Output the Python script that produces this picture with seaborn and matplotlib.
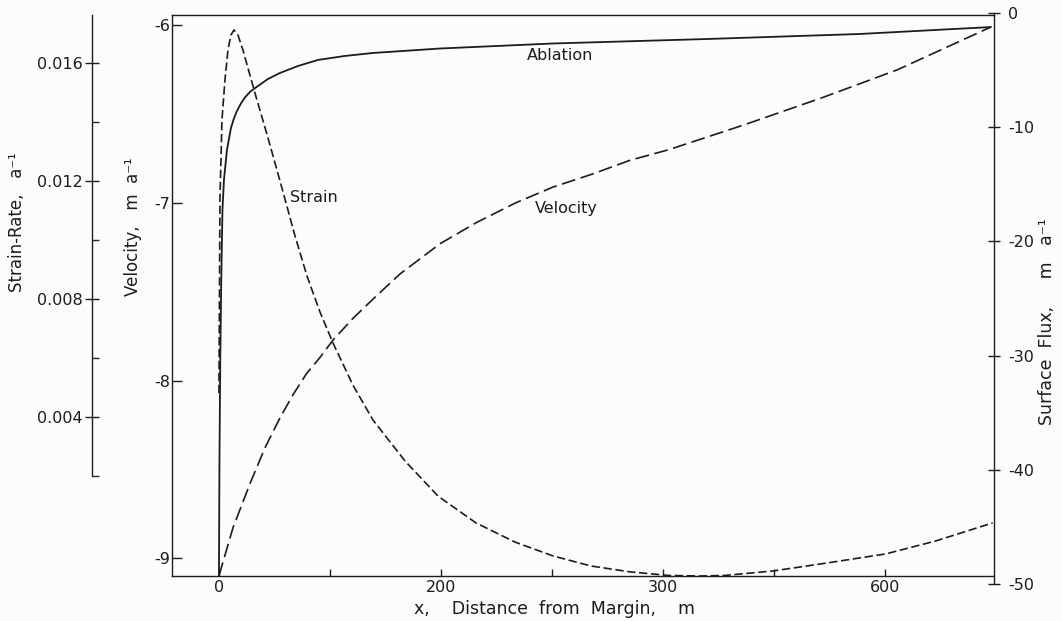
import seaborn as sns
import matplotlib.pyplot as plt

# distance from margin (m) and curve values
vel_x = [0, 12.6, 28, 41.4, 55, 66.7, 79, 91, 103, 120.7, 139, 163, 199, 232, 267, 301,
         335, 370, 405, 473, 542, 611, 695]
vel_y = [-9.10, -8.83, -8.58, -8.38, -8.21, -8.08, -7.96, -7.87, -7.77, -7.65, -7.54,
         -7.40, -7.23, -7.11, -7.00, -6.91, -6.84, -6.76, -6.70, -6.56, -6.41, -6.25, -6.01]

strain_x = [0, 0.9, 2.7, 5.4, 8.1, 10.8, 13.5, 17.1, 21.6, 27.9, 34.2, 43.2, 50.5, 57.7,
            68.5, 79.3, 91, 102.7, 120.7, 138.7, 167.6, 197.3, 231.5, 266.7, 300.9,
            335.1, 370.3, 404.5, 433.3, 455.9, 499.1, 542.3, 600.9, 645.9, 697]
strain_y = [0.00481, 0.01136, 0.01407, 0.01542, 0.01644, 0.01695, 0.01712, 0.01695,
            0.01644, 0.01559, 0.01475, 0.01359, 0.01261, 0.01163, 0.01014, 0.00878,
            0.00756, 0.00651, 0.00508, 0.00390, 0.00251, 0.00132, 0.00041, -0.00024,
            -0.00071, -0.00105, -0.00125, -0.00137, -0.00139, -0.00137, -0.00122,
            -0.00098, -0.00064, -0.00020, 0.00041]

abl_x = [0, 0.45, 1.17, 2.07, 3.15, 4.5, 7.2, 10.8, 13.5, 16.2, 19.8, 23.4, 27.9, 33.3,
         44.1, 55, 71.2, 89.2, 113.5, 138.7, 199.1, 300.9, 438.7, 576.6, 695.5]
abl_y = [-49.28, -39.12, -30.37, -23.37, -17.24, -14.62, -11.99, -10.07, -9.23, -8.58,
         -7.92, -7.40, -6.91, -6.52, -5.78, -5.25, -4.64, -4.11, -3.76, -3.50, -3.11,
         -2.67, -2.28, -1.84, -1.23]

x_ticks = [0, 200, 400, 600]
x_ticklabels = ['0', '200', '300', '600']
vel_ticks = [-6, -7, -8, -9]
strain_ticks = [0.004, 0.008, 0.012, 0.016]
strain_ticklabels = ['0.004', '0.008', '0.012', '0.016']
flux_ticks = [0, -10, -20, -30, -40, -50]

sns.set_style("ticks")
plt.rcParams['font.family'] = ['DejaVu Sans']
plt.rcParams['font.size'] = 11
plt.rcParams['axes.unicode_minus'] = False
plt.rcParams['lines.scale_dashes'] = False

bg = '#fbfcfb'
ink = '#1c1c1c'
W, H = 1062, 621

fig = plt.figure(figsize=(W / 100, H / 100), dpi=100, facecolor=bg)

# main axes (velocity), pixel box 172..994 x 15..576
ax = fig.add_axes([172 / W, (H - 576) / H, 822 / W, 561 / H])
ax.set_facecolor('none')
# flux axes sits a little taller than the frame (0 at y=13, -50 at y=584)
ax_f = fig.add_axes([172 / W, (H - 584) / H, 822 / W, 571 / H])
ax_f.set_facecolor('none')
ax_s = ax.twinx()

xlim = (-42.3, 698.2)

sns.lineplot(x=vel_x, y=vel_y, ax=ax, color=ink, linewidth=1.2)
ax.lines[-1].set_dashes((10, 4))
sns.lineplot(x=strain_x, y=strain_y, ax=ax_s, color=ink, linewidth=1.2)
ax_s.lines[-1].set_dashes((6, 2.6))
sns.lineplot(x=abl_x, y=abl_y, ax=ax_f, color=ink, linewidth=1.3)

# velocity axis
ax.set_xlim(*xlim)
ax.set_ylim(-9.101, -5.941)
ax.set_xticks(x_ticks)
ax.set_xticklabels(x_ticklabels)
ax.set_xticks([100, 300, 500], minor=True)
ax.set_yticks(vel_ticks)
ax.set_yticklabels([str(v) for v in vel_ticks])
ax.tick_params(axis='x', which='both', direction='in', length=5, width=1, pad=3,
               colors=ink, labelsize=11.5)
ax.tick_params(axis='y', direction='in', length=7, width=1, pad=1.5,
               colors=ink, labelsize=11.5)
ax.spines['right'].set_visible(False)
for s in ['left', 'top', 'bottom']:
    ax.spines[s].set_linewidth(1)
    ax.spines[s].set_color(ink)
ax.set_xlabel('')
ax.set_ylabel('')

# surface flux axis
ax_f.set_xlim(*xlim)
ax_f.set_ylim(-50, 0)
ax_f.set_xticks([])
ax_f.yaxis.tick_right()
ax_f.set_yticks(flux_ticks)
ax_f.set_yticklabels([str(v) for v in flux_ticks])
ax_f.tick_params(axis='y', direction='inout', length=8, width=1, pad=6,
                 colors=ink, labelsize=11.5)
for s in ['left', 'top', 'bottom']:
    ax_f.spines[s].set_visible(False)
ax_f.spines['right'].set_visible(True)
ax_f.spines['right'].set_linewidth(1)
ax_f.spines['right'].set_color(ink)
ax_f.set_xlabel('')
ax_f.set_ylabel('')

# strain-rate axis, detached to the left
ax_s.set_ylim(-0.001390, 0.017627)
ax_s.yaxis.tick_left()
ax_s.spines['left'].set_position(('axes', -80 / 822))
ax_s.spines['left'].set_visible(True)
ax_s.spines['left'].set_bounds(0.002, 0.017627)
ax_s.spines['left'].set_linewidth(1)
ax_s.spines['left'].set_color(ink)
for s in ['right', 'top', 'bottom']:
    ax_s.spines[s].set_visible(False)
ax_s.set_yticks(strain_ticks)
ax_s.set_yticklabels(strain_ticklabels)
ax_s.set_yticks([0.002, 0.006, 0.010, 0.014], minor=True)
ax_s.tick_params(axis='y', which='major', direction='inout', length=10, width=1,
                 pad=1.5, colors=ink, labelsize=11.5)
ax_s.tick_params(axis='y', which='minor', direction='in', length=5, width=1)
ax_s.set_ylabel('')

# curve names
ax.text(307, -6.17, 'Ablation', ha='center', va='center', fontsize=11.5, color=ink)
ax.text(64, -6.97, 'Strain', ha='left', va='center', fontsize=11.5, color=ink)
ax.text(313, -7.03, 'Velocity', ha='center', va='center', fontsize=11.5, color=ink)

# axis titles
fig.text(17 / W, 1 - 222 / H, 'Strain-Rate,   a⁻¹', rotation=90,
         ha='center', va='center', fontsize=12, color=ink)
fig.text(133 / W, 1 - 227 / H, 'Velocity,   m  a⁻¹', rotation=90,
         ha='center', va='center', fontsize=12, color=ink)
fig.text(1047 / W, 1 - 322 / H, 'Surface  Flux,     m   a⁻¹', rotation=90,
         ha='center', va='center', fontsize=12.5, color=ink)
fig.text(555 / W, 1 - 609 / H, 'x,    Distance  from  Margin,    m',
         ha='center', va='center', fontsize=12.5, color=ink)

fig.savefig('out.png', dpi=100, facecolor=bg)
